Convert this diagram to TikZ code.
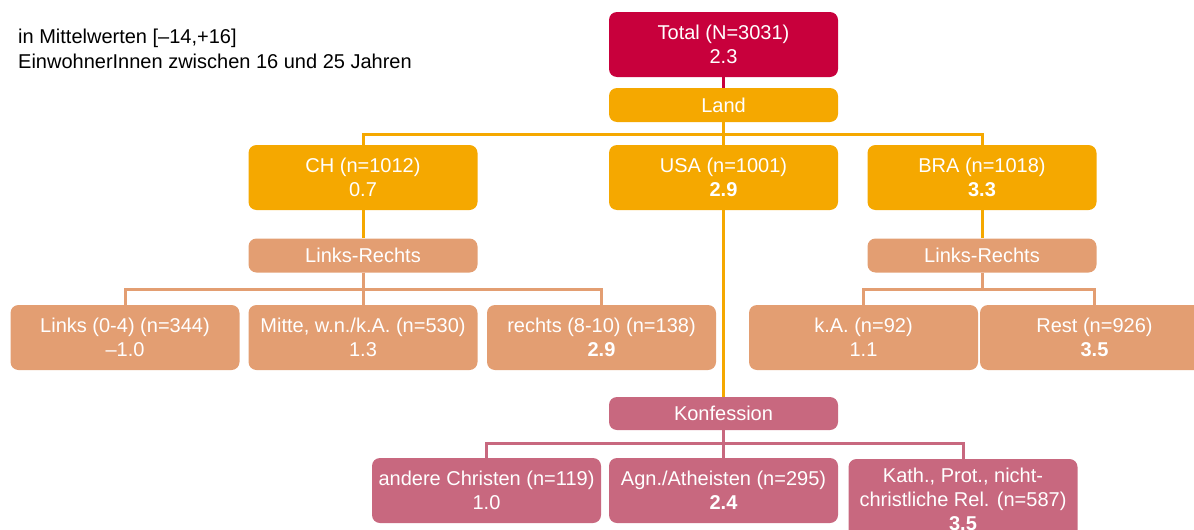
\documentclass[tikz,border=0pt]{standalone}
\usepackage{fontspec}
\setmainfont{Liberation Sans}
\usetikzlibrary{backgrounds}
\definecolor{crim}{HTML}{C8003C}
\definecolor{org}{HTML}{F5A800}
\definecolor{salm}{HTML}{E39E72}
\definecolor{pnk}{HTML}{C8687F}
\begin{document}
\begin{tikzpicture}[x=1pt,y=-1pt,
  box/.style={rounded corners=8pt, minimum width=229pt, minimum height=65pt, inner sep=0pt,
    text=white, align=center, font=\fontsize{20}{24}\selectfont},
  lab/.style={box, minimum height=34pt},
  conn/.style={line width=3pt}]
\useasboundingbox (0,0) rectangle (1194,530);
\clip (0,0) rectangle (1194,530);

\node[anchor=north west, align=left, font=\fontsize{20}{25}\selectfont, inner sep=0pt] (note) at (18,29)
  {in Mittelwerten [–14,+16]\\EinwohnerInnen zwischen 16 und 25 Jahren};

\node[box, fill=crim] (total) at (723.5,44.5) {Total (N=3031)\\2.3};
\node[lab, fill=org] (land) at (723.5,105) {Land};

\node[box, fill=org] (ch) at (363,177.5) {CH (n=1012)\\0.7};
\node[box, fill=org] (usa) at (723.5,177.5) {USA (n=1001)\\\textbf{2.9}};
\node[box, fill=org] (bra) at (982,177.5) {BRA (n=1018)\\\textbf{3.3}};

\node[lab, fill=salm] (lrl) at (363,255.5) {Links-Rechts};
\node[lab, fill=salm] (lrr) at (982,255.5) {Links-Rechts};

\node[box, fill=salm] (links) at (125,337.5) {Links (0-4) (n=344)\\–1.0};
\node[box, fill=salm] (mitte) at (363,337.5) {Mitte, w.n./k.A. (n=530)\\1.3};
\node[box, fill=salm] (rechts) at (601.5,337.5) {rechts (8-10) (n=138)\\\textbf{2.9}};
\node[box, fill=salm] (ka) at (863.5,337.5) {k.A. (n=92)\\1.1};
\node[box, fill=salm] (rest) at (1094.5,337.5) {Rest (n=926)\\\textbf{3.5}};

\node[lab, fill=pnk, minimum height=33pt] (konf) at (723.5,413.5) {Konfession};
\node[box, fill=pnk] (andere) at (486.5,490.5) {andere Christen (n=119)\\1.0};
\node[box, fill=pnk] (agn) at (723.5,490.5) {Agn./Atheisten (n=295)\\\textbf{2.4}};
\node[box, fill=pnk, minimum height=80pt] (kath) at (963,499) {Kath., Prot., nicht-\\christliche Rel. (n=587)\\\textbf{3.5}};

\begin{scope}[on background layer]
  \draw[conn, crim] (total.south) -- (land.north);
  \draw[conn, org] (land.south) -- ++(0,12) -| (ch.north);
  \draw[conn, org] (land.south) -- ++(0,12) -| (bra.north);
  \draw[conn, org] (land.south) -- (usa.north);
  \draw[conn, org] (ch.south) -- (lrl.north);
  \draw[conn, org] (bra.south) -- (lrr.north);
  \draw[conn, org] (usa.south) -- (konf.north);
  \draw[conn, salm] (lrl.south) -- ++(0,17) -| (links.north);
  \draw[conn, salm] (lrl.south) -- ++(0,17) -| (rechts.north);
  \draw[conn, salm] (lrl.south) -- (mitte.north);
  \draw[conn, salm] (lrr.south) -- ++(0,17) -| (ka.north);
  \draw[conn, salm] (lrr.south) -- ++(0,17) -| (rest.north);
  \draw[conn, pnk] (konf.south) -- ++(0,13) -| (andere.north);
  \draw[conn, pnk] (konf.south) -- ++(0,13) -| (kath.north);
  \draw[conn, pnk] (konf.south) -- (agn.north);
\end{scope}
\end{tikzpicture}
\end{document}
